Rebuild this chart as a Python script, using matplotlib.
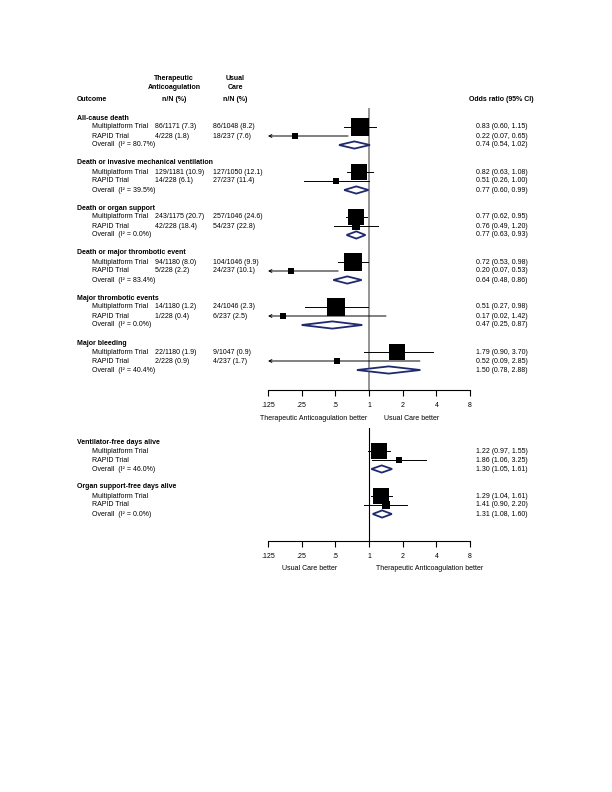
import numpy as np
import matplotlib
matplotlib.use('Agg')
import matplotlib.pyplot as plt

plt.rcParams['font.family'] = ['Liberation Sans', 'DejaVu Sans']
plt.rcParams['font.size'] = 5

# binary outcomes (upper panel)
outcomes = ['All-cause death', 'Death or invasive mechanical ventilation',
            'Death or organ support', 'Death or major thrombotic event',
            'Major thrombotic events', 'Major bleeding']
mp_ta = ['86/1171 (7.3)', '129/1181 (10.9)', '243/1175 (20.7)',
         '94/1180 (8.0)', '14/1180 (1.2)', '22/1180 (1.9)']
mp_uc = ['86/1048 (8.2)', '127/1050 (12.1)', '257/1046 (24.6)',
         '104/1046 (9.9)', '24/1046 (2.3)', '9/1047 (0.9)']
rapid_ta = ['4/228 (1.8)', '14/228 (6.1)', '42/228 (18.4)',
            '5/228 (2.2)', '1/228 (0.4)', '2/228 (0.9)']
rapid_uc = ['18/237 (7.6)', '27/237 (11.4)', '54/237 (22.8)',
            '24/237 (10.1)', '6/237 (2.5)', '4/237 (1.7)']
mp_or = [0.83, 0.82, 0.77, 0.72, 0.51, 1.79]
mp_lo = [0.60, 0.63, 0.62, 0.53, 0.27, 0.90]
mp_hi = [1.15, 1.08, 0.95, 0.98, 0.98, 3.70]
rapid_or = [0.22, 0.51, 0.76, 0.20, 0.17, 0.52]
rapid_lo = [0.07, 0.26, 0.49, 0.07, 0.02, 0.09]
rapid_hi = [0.65, 1.00, 1.20, 0.53, 1.42, 2.85]
all_or = [0.74, 0.77, 0.77, 0.64, 0.47, 1.50]
all_lo = [0.54, 0.60, 0.63, 0.48, 0.25, 0.78]
all_hi = [1.02, 0.99, 0.93, 0.86, 0.87, 2.88]
i2 = ['80.7', '39.5', '0.0', '83.4', '0.0', '40.4']

# days alive outcomes (lower panel)
outcomes2 = ['Ventilator-free days alive', 'Organ support-free days alive']
mp_or2 = [1.22, 1.29]
mp_lo2 = [0.97, 1.04]
mp_hi2 = [1.55, 1.61]
rapid_or2 = [1.86, 1.41]
rapid_lo2 = [1.06, 0.90]
rapid_hi2 = [3.25, 2.20]
all_or2 = [1.30, 1.31]
all_lo2 = [1.05, 1.08]
all_hi2 = [1.61, 1.60]
i2_2 = ['46.0', '0.0']

ticks = [0.125, 0.25, 0.5, 1, 2, 4, 8]
tick_labels = ['.125', '.25', '.5', '1', '2', '4', '8']

W, H = 612, 792
fig = plt.figure(figsize=(W / 100, H / 100), dpi=100)

navy = '#1f2a6e'


def fx(px):
    return px / W


def fy(py):
    return 1 - py / H


def box_sizes(lo_a, hi_a, lo_b, hi_b):
    # square side ~ sqrt of inverse-variance weight share
    se_a = (np.log(hi_a) - np.log(lo_a)) / 3.92
    se_b = (np.log(hi_b) - np.log(lo_b)) / 3.92
    wa, wb = 1 / se_a ** 2, 1 / se_b ** 2
    pa, pb = wa / (wa + wb), wb / (wa + wb)
    side = 18.0  # px for 100 %
    return side * np.sqrt(pa) * 0.72, side * np.sqrt(pb) * 0.72


def ci_line(ax, o, lo, hi, r):
    if lo < 0.125:
        ax.annotate('', xy=(0.125, r), xytext=(hi, r),
                    arrowprops=dict(arrowstyle='->', lw=0.7, color='black',
                                    shrinkA=0, shrinkB=0, mutation_scale=5))
    else:
        ax.plot([lo, min(hi, 8)], [r, r], color='black', lw=0.7, zorder=2)


def diamond(ax, o, lo, hi, r):
    h = 0.4
    ax.fill([lo, o, hi, o, lo], [r, r - h, r, r + h, r], facecolor='white',
            edgecolor=navy, lw=1.3, zorder=4)


def forest(ax, names, ta1, uc1, ta2, uc2, o1, l1, h1, o2, l2, h2, oa, la, ha, isq):
    trf = matplotlib.transforms.blended_transform_factory(fig.transFigure, ax.transData)
    for g in range(len(names)):
        r0 = 5 * g
        ax.text(fx(77), r0, names[g], transform=trf, fontweight='bold', va='center')
        ax.text(fx(92), r0 + 1, 'Multiplatform Trial', transform=trf, va='center')
        ax.text(fx(92), r0 + 2, 'RAPID Trial', transform=trf, va='center')
        ax.text(fx(92), r0 + 3, 'Overall  (I\u00b2 = %s%%)' % isq[g], transform=trf, va='center')
        if ta1 is not None:
            ax.text(fx(155), r0 + 1, ta1[g], transform=trf, va='center')
            ax.text(fx(213), r0 + 1, uc1[g], transform=trf, va='center')
            ax.text(fx(155), r0 + 2, ta2[g], transform=trf, va='center')
            ax.text(fx(213), r0 + 2, uc2[g], transform=trf, va='center')
        for k, (o, lo, hi) in enumerate([(o1[g], l1[g], h1[g]), (o2[g], l2[g], h2[g]),
                                         (oa[g], la[g], ha[g])]):
            ax.text(fx(476), r0 + 1 + k, '%.2f (%.2f, %.2f)' % (o, lo, hi),
                    transform=trf, va='center')
        s1, s2 = box_sizes(l1[g], h1[g], l2[g], h2[g])
        ci_line(ax, o1[g], l1[g], h1[g], r0 + 1)
        ci_line(ax, o2[g], l2[g], h2[g], r0 + 2)
        ax.plot(o1[g], r0 + 1, 's', color='black', ms=s1, mew=0, zorder=3)
        ax.plot(o2[g], r0 + 2, 's', color='black', ms=s2, mew=0, zorder=3)
        diamond(ax, oa[g], la[g], ha[g], r0 + 3)

    ax.set_xscale('log', base=2)
    ax.set_xlim(0.125, 8)
    ax.set_xticks(ticks)
    ax.set_xticklabels(tick_labels)
    ax.minorticks_off()
    ax.set_yticks([])
    for s in ['top', 'left', 'right']:
        ax.spines[s].set_visible(False)
    ax.spines['bottom'].set_linewidth(0.8)
    ax.tick_params(axis='x', direction='out', length=4.5, width=0.8, pad=4, labelsize=5)
    ax.patch.set_alpha(0)


# upper panel: rows at 118 + 9*r px, axis at 390, top of ref line at 108
ax1 = fig.add_axes([fx(268), fy(390), fx(470) - fx(268), fy(108) - fy(390)])
ax1.set_ylim((390 - 118) / 9, (108 - 118) / 9)
ax1.axvline(1, color='#8c8c8c', lw=1.3, zorder=1)
forest(ax1, outcomes, mp_ta, mp_uc, rapid_ta, rapid_uc,
       mp_or, mp_lo, mp_hi, rapid_or, rapid_lo, rapid_hi, all_or, all_lo, all_hi, i2)

trf1 = matplotlib.transforms.blended_transform_factory(fig.transFigure, ax1.transData)
ax1.text(fx(77), -2.1, 'Outcome', transform=trf1, fontweight='bold', va='center')
ax1.text(fx(174), -4.4, 'Therapeutic', transform=trf1, fontweight='bold', va='center', ha='center')
ax1.text(fx(174), -3.4, 'Anticoagulation', transform=trf1, fontweight='bold', va='center', ha='center')
ax1.text(fx(174), -2.1, 'n/N (%)', transform=trf1, fontweight='bold', va='center', ha='center')
ax1.text(fx(235), -4.4, 'Usual', transform=trf1, fontweight='bold', va='center', ha='center')
ax1.text(fx(235), -3.4, 'Care', transform=trf1, fontweight='bold', va='center', ha='center')
ax1.text(fx(235), -2.1, 'n/N (%)', transform=trf1, fontweight='bold', va='center', ha='center')
ax1.text(fx(501), -2.1, 'Odds ratio (95% CI)', transform=trf1, fontweight='bold', va='center', ha='center')

fig.text(fx(314), fy(418), 'Therapeutic Anticoagulation better', ha='center', va='center')
fig.text(fx(412), fy(418), 'Usual Care better', ha='center', va='center')

# lower panel: rows at 442 + 9*r px, axis at 541, top of ref line at 428
ax2 = fig.add_axes([fx(268), fy(541), fx(470) - fx(268), fy(428) - fy(541)])
ax2.set_ylim((541 - 442) / 9, (428 - 442) / 9)
ax2.axvline(1, color='black', lw=0.8, zorder=1)
forest(ax2, outcomes2, None, None, None, None,
       mp_or2, mp_lo2, mp_hi2, rapid_or2, rapid_lo2, rapid_hi2,
       all_or2, all_lo2, all_hi2, i2_2)

fig.text(fx(310), fy(569), 'Usual Care better', ha='center', va='center')
fig.text(fx(430), fy(569), 'Therapeutic Anticoagulation better', ha='center', va='center')

fig.savefig('out.png', dpi=100)
